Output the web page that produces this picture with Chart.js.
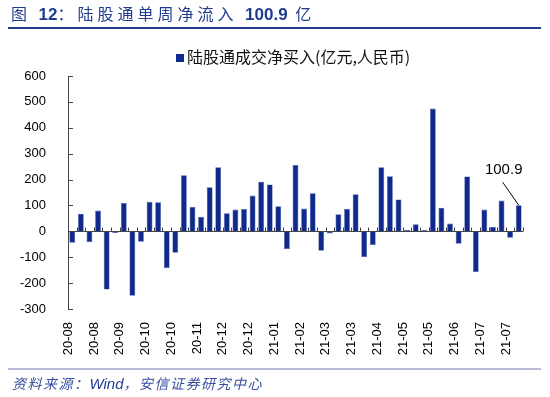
<!DOCTYPE html>
<html>
<head>
<meta charset="utf-8">
<script src="https://cdn.jsdelivr.net/npm/chart.js@4.4.1/dist/chart.umd.min.js"></script>
<style>
  html, body { margin: 0; padding: 0; background: #fff; }
  #wrap { position: relative; width: 550px; height: 397px; overflow: hidden; }
  #chart { position: absolute; left: 0; top: 0; }
  .ov { position: absolute; white-space: nowrap; }
  #title { left: 11px; top: 3px; color: #1f3c8f; font-size: 16px; line-height: 20px; }
  #title .b { font-family: "Liberation Sans", Arial, sans-serif; font-weight: bold; font-size: 17px; }
  #title .cj { font-family: "Noto Sans CJK SC", sans-serif; letter-spacing: 4px; }
  #topline { left: 8px; top: 27px; width: 533px; height: 2px; background: #1f3c94; }
  #legend { left: 176px; top: 46px; font-family: "Noto Sans CJK SC", sans-serif; font-size: 16px; line-height: 20px; color: #111; }
  #legend i { display: inline-block; width: 8px; height: 8px; background: #0f2a8c; margin-right: 3px; vertical-align: 1px; }
  #botline { left: 8px; top: 368px; width: 533px; height: 2px; background: #b9bcd9; }
  #source { left: 12px; top: 374px; color: #3a4fa0; font-size: 14px; line-height: 18px; font-style: italic; }
  #source .cj { font-family: "Noto Sans CJK SC", sans-serif; letter-spacing: 1.5px; }
  #source .en { font-family: "Liberation Sans", Arial, sans-serif; font-size: 15px; color: #1f3c94; }
</style>
</head>
<body>
<div id="wrap">
  <canvas id="chart" width="550" height="397"></canvas>
  <div class="ov" id="title"><span class="cj">图 </span><span class="b">12</span><span class="cj">：陆股通单周净流入 </span><span class="b">100.9</span><span class="cj"> 亿</span></div>
  <div class="ov" id="topline"></div>
  <div class="ov" id="legend"><i></i>陆股通成交净买入(亿元,人民币)</div>
  <div class="ov" id="botline"></div>
  <div class="ov" id="source"><span class="cj">资料来源：</span><span class="en">Wind</span><span class="cj">，安信证券研究中心</span></div>
</div>
<script>
// weekly categories, 2020-08 to 2021-07 (yy-mm of each week)
const weeks = [
  "20-08", "20-08", "20-08", "20-08", "20-08", "20-09", "20-09", "20-09", "20-09",
  "20-10", "20-10", "20-10", "20-10", "20-11", "20-11", "20-11", "20-11", "20-11",
  "20-12", "20-12", "20-12", "20-12", "21-01", "21-01", "21-01", "21-01",
  "21-02", "21-02", "21-02", "21-02", "21-03", "21-03", "21-03", "21-03", "21-03",
  "21-04", "21-04", "21-04", "21-04", "21-05", "21-05", "21-05", "21-05", "21-05",
  "21-06", "21-06", "21-06", "21-06", "21-07", "21-07", "21-07", "21-07", "21-08"
];

// 陆股通成交净买入 (亿元)
const netBuy = [
  -44, 68, -42, 80, -225, -6, 109, -249, -40, 114, 112, -142, -83,
  217, 94, 56, 170, 248, 70, 84, 86, 138, 192, 181, 97, -69,
  256, 88, 147, -75, -8, 66, 87, 143, -100, -53, 248, 213, 123,
  6, 27, 5, 474, 91, 30, -48, 212, -157, 84, 17, 119, -25, 100.9
];

const yMin = -300;
const yMax = 600;
const yStep = 100;
const labelEvery = 3;
const lastLabel = "100.9";

const axisMarks = {
  id: "axisMarks",
  afterDatasetsDraw(chart) {
    const { ctx, chartArea } = chart;
    const x = chart.scales.x;
    const y = chart.scales.y;
    ctx.save();
    ctx.strokeStyle = "#444";
    ctx.lineWidth = 1;
    ctx.beginPath();
    // inside ticks on the value axis
    for (const t of y.ticks) {
      const py = Math.round(y.getPixelForValue(t.value)) + 0.5;
      ctx.moveTo(chartArea.left, py);
      ctx.lineTo(chartArea.left + 5, py);
    }
    // zero line + small ticks between weeks
    const y0 = Math.round(y.getPixelForValue(0)) + 0.5;
    ctx.moveTo(chartArea.left, y0);
    ctx.lineTo(chartArea.right, y0);
    for (let i = 0; i <= weeks.length; i++) {
      const px = Math.round(x.getPixelForValue(i - 0.5)) + 0.5;
      ctx.moveTo(px, y0);
      ctx.lineTo(px, y0 - 4);
    }
    ctx.stroke();

    // callout for latest week
    const bar = chart.getDatasetMeta(0).data[netBuy.length - 1];
    ctx.beginPath();
    ctx.strokeStyle = "#000";
    ctx.moveTo(bar.x - 16, bar.y - 23);
    ctx.lineTo(bar.x, bar.y);
    ctx.stroke();
    ctx.fillStyle = "#000";
    ctx.font = "15px 'Liberation Sans', Arial, sans-serif";
    ctx.textAlign = "center";
    ctx.textBaseline = "middle";
    ctx.fillText(lastLabel, bar.x - 15, bar.y - 35);
    ctx.restore();
  }
};

new Chart(document.getElementById("chart"), {
  type: "bar",
  data: {
    labels: weeks,
    datasets: [{
      data: netBuy,
      backgroundColor: "#0f2a8c",
      borderColor: "#4a5fb0",
      borderWidth: 0.6,
      barPercentage: 0.68,
      categoryPercentage: 1.0
    }]
  },
  options: {
    responsive: false,
    animation: false,
    events: [],
    layout: { padding: { top: 76, bottom: 38, left: 8, right: 27 } },
    plugins: {
      legend: { display: false },
      tooltip: { enabled: false }
    },
    scales: {
      x: {
        grid: { display: false },
        border: { display: false },
        ticks: {
          autoSkip: false,
          minRotation: 90,
          maxRotation: 90,
          padding: 5,
          labelOffset: -4,
          color: "#000",
          font: { family: "'Liberation Sans', Arial, sans-serif", size: 13 },
          callback: (v, i) => (i % labelEvery === 0 ? weeks[i] : "")
        },
        afterFit: s => { s.height = 50; }
      },
      y: {
        min: yMin,
        max: yMax,
        grid: { display: false },
        border: { display: true, color: "#444", width: 1 },
        ticks: {
          stepSize: yStep,
          padding: 14,
          color: "#000",
          font: { family: "'Liberation Sans', Arial, sans-serif", size: 13 }
        },
        afterFit: s => { s.width = 60; }
      }
    }
  },
  plugins: [axisMarks]
});
</script>
</body>
</html>
